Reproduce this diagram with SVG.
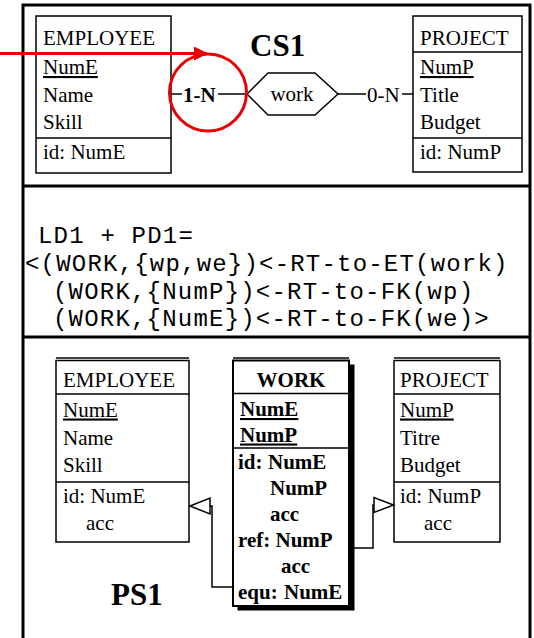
<svg xmlns="http://www.w3.org/2000/svg" width="534" height="638" viewBox="0 0 534 638">
<style>
.t{font-family:"Liberation Serif","Times New Roman",serif;font-size:21px;fill:#000}
.b{font-weight:bold}
.u{text-decoration:underline}
.m{font-family:"Liberation Mono","Courier New",monospace;font-size:24px;letter-spacing:1.2px;fill:#000}
.ttl{font-family:"Liberation Serif","Times New Roman",serif;font-size:31px;font-weight:bold;fill:#000}
.box{fill:#fff;stroke:#000;stroke-width:1.5}
.wbox{fill:#fff;stroke:#000;stroke-width:2}
.ln{stroke:#000;stroke-width:1.5;fill:none}
.frame{fill:none;stroke:#000;stroke-width:3}
.red{stroke:#e60000;stroke-width:3;fill:none}
.tri{fill:#fff;stroke:#000;stroke-width:1.5}
</style>
<defs>
<marker id="redhead" viewBox="0 0 14 14" refX="13" refY="7" markerWidth="14" markerHeight="14" markerUnits="userSpaceOnUse" orient="auto">
<path d="M0,0 L14,7 L0,14 Z" fill="#e60000"/>
</marker>
</defs>
<rect width="534" height="638" fill="#fff"/>
<g id="frame">
<path class="frame" d="M23,640 V5 H530 V640"/>
<line class="frame" x1="23" y1="186" x2="530" y2="186"/>
<line class="frame" x1="23" y1="337" x2="530" y2="337"/>
</g>
<g id="cs1-label"><text class="ttl" x="250" y="56">CS1</text></g>
<g id="cs-employee">
<rect class="box" x="36" y="16" width="135" height="157"/>
<line class="ln" x1="36" y1="53" x2="171" y2="53"/>
<line class="ln" x1="36" y1="138" x2="171" y2="138"/>
<text class="t" x="43" y="45">EMPLOYEE</text>
<text class="t u" x="43" y="74">NumE</text>
<text class="t" x="43" y="102">Name</text>
<text class="t" x="43" y="129">Skill</text>
<text class="t" x="43" y="159">id: NumE</text>
</g>
<g id="cs-project">
<rect class="box" x="413" y="16" width="109" height="156"/>
<line class="ln" x1="413" y1="52" x2="522" y2="52"/>
<line class="ln" x1="413" y1="138" x2="522" y2="138"/>
<text class="t" x="420" y="45">PROJECT</text>
<text class="t u" x="420" y="74">NumP</text>
<text class="t" x="420" y="102">Title</text>
<text class="t" x="420" y="129">Budget</text>
<text class="t" x="420" y="159">id: NumP</text>
</g>
<g id="cs-work">
<polygon class="box" points="247,94 268,73 315,73 338,94 315,115 268,115"/>
<text class="t" x="292" y="100.5" text-anchor="middle">work</text>
</g>
<g id="cs-connectors">
<line class="ln" x1="171" y1="94" x2="182" y2="94"/>
<line class="ln" x1="218" y1="94" x2="247" y2="94"/>
<text class="t b" x="183" y="101.5">1-N</text>
<line class="ln" x1="338" y1="94" x2="366" y2="94"/>
<line class="ln" x1="402" y1="94" x2="413" y2="94"/>
<text class="t" x="367" y="101.5">0-N</text>
</g>
<g id="annotation">
<line class="red" x1="0" y1="53.5" x2="207" y2="53.5" marker-end="url(#redhead)"/>
<circle class="red" cx="208" cy="92.5" r="38.5"/>
</g>
<g id="transformation">
<text class="m" x="38" y="243">LD1 + PD1=</text>
<text class="m" x="25" y="271">&lt;(WORK,{wp,we})&lt;-RT-to-ET(work)</text>
<text class="m" x="53" y="299">(WORK,{NumP})&lt;-RT-to-FK(wp)</text>
<text class="m" x="53" y="326">(WORK,{NumE})&lt;-RT-to-FK(we)&gt;</text>
</g>
<g id="ps1-label"><text class="ttl" x="111" y="605">PS1</text></g>
<g id="ps-employee">
<rect class="box" x="56" y="360.5" width="133" height="181.5"/>
<line class="ln" x1="56" y1="358" x2="189" y2="358"/>
<line class="ln" x1="56" y1="394" x2="189" y2="394"/>
<line class="ln" x1="56" y1="482" x2="189" y2="482"/>
<text class="t" x="63" y="387">EMPLOYEE</text>
<text class="t u" x="63" y="416.5">NumE</text>
<text class="t" x="63" y="445">Name</text>
<text class="t" x="63" y="472">Skill</text>
<text class="t" x="63" y="503">id: NumE</text>
<text class="t" x="86" y="530">acc</text>
</g>
<g id="ps-work">
<rect x="237.5" y="364.5" width="117" height="246" fill="#000"/>
<rect class="wbox" x="233" y="360.5" width="116" height="245.5"/>
<line class="ln" x1="233" y1="358" x2="349" y2="358"/>
<line class="ln" x1="233" y1="393.5" x2="349" y2="393.5"/>
<line class="ln" x1="233" y1="448" x2="349" y2="448"/>
<text class="t b" x="291" y="387" text-anchor="middle">WORK</text>
<text class="t b u" x="240" y="416">NumE</text>
<text class="t b u" x="240" y="441.5">NumP</text>
<text class="t b" x="238" y="469">id:</text>
<text class="t b" x="268" y="469">NumE</text>
<text class="t b" x="270" y="495">NumP</text>
<text class="t b" x="270" y="521">acc</text>
<text class="t b" x="238" y="547">ref: NumP</text>
<text class="t b" x="281" y="573">acc</text>
<text class="t b" x="238" y="599">equ:</text>
<text class="t b" x="284" y="599">NumE</text>
</g>
<g id="ps-project">
<rect class="box" x="394" y="360.5" width="106" height="181.5"/>
<line class="ln" x1="394" y1="358" x2="500" y2="358"/>
<line class="ln" x1="394" y1="394" x2="500" y2="394"/>
<line class="ln" x1="394" y1="482" x2="500" y2="482"/>
<text class="t" x="400" y="387">PROJECT</text>
<text class="t u" x="400" y="416.5">NumP</text>
<text class="t" x="400" y="445">Titre</text>
<text class="t" x="400" y="472">Budget</text>
<text class="t" x="400" y="503">id: NumP</text>
<text class="t" x="424" y="530">acc</text>
</g>
<g id="ps-connectors">
<path class="ln" d="M210,506 H212 V587 H233"/>
<polygon class="tri" points="190,506 210,498 210,514"/>
<path class="ln" d="M374,505 H373 V548 H354"/>
<polygon class="tri" points="393.5,505 374,497.5 374,512.5"/>
</g>
</svg>
